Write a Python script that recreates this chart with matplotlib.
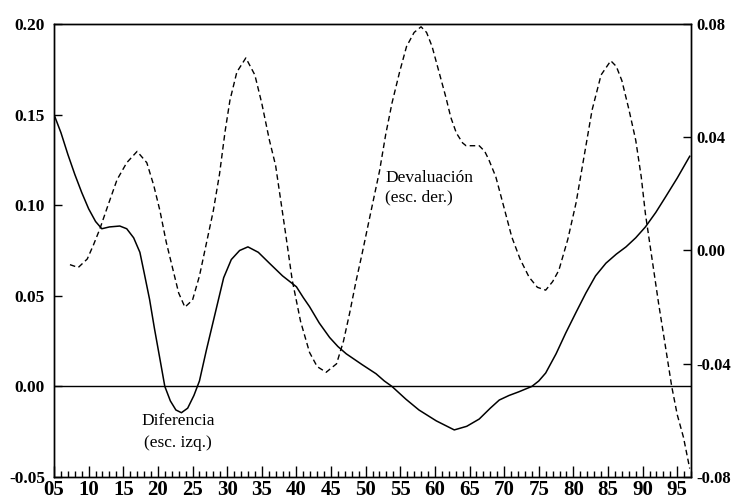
import numpy as np
import matplotlib.pyplot as plt
from matplotlib.ticker import MultipleLocator, FixedLocator

# Diferencia (escala izquierda)
dif_year = [5.1, 6.0, 7.0, 8.0, 9.0, 10.0, 11.0, 11.9, 13.0, 14.5, 15.5, 16.5,
            17.4, 18.0, 18.8, 19.5, 20.3, 21.0, 21.8, 22.6, 23.4, 24.3, 25.2,
            26.0, 27.0, 28.5, 29.5, 30.6, 31.8, 33.0, 34.5, 36.1, 38.0, 40.0,
            41.0, 41.9, 43.3, 44.8, 46.0, 47.2, 49.5, 51.5, 52.7, 53.8, 55.8,
            57.7, 60.2, 62.8, 64.6, 66.4, 68.0, 69.3, 70.7, 72.1, 74.0, 75.0,
            76.0, 77.5, 78.9, 80.4, 81.8, 83.2, 84.7, 86.2, 87.6, 89.0, 90.4,
            91.9, 93.3, 95.0, 96.8]
dif_val = [0.149, 0.140, 0.128, 0.117, 0.107, 0.098, 0.091, 0.087, 0.088, 0.0885,
           0.087, 0.082, 0.074, 0.063, 0.048, 0.032, 0.015, 0.000, -0.008, -0.013,
           -0.0145, -0.012, -0.005, 0.003, 0.020, 0.044, 0.060, 0.070, 0.075,
           0.077, 0.074, 0.068, 0.061, 0.055, 0.049, 0.044, 0.035, 0.027, 0.022,
           0.018, 0.012, 0.007, 0.003, 0.000, -0.007, -0.013, -0.019, -0.024,
           -0.022, -0.018, -0.012, -0.0075, -0.005, -0.003, 0.000, 0.003, 0.0074,
           0.018, 0.0295, 0.041, 0.0515, 0.061, 0.068, 0.073, 0.077, 0.082,
           0.088, 0.096, 0.1045, 0.115, 0.127]

# Devaluación (escala derecha)
dev_year = [7.3, 8.5, 9.8, 10.7, 11.6, 12.8, 14.1, 15.5, 17.0, 18.4, 19.4, 20.3,
            21.2, 22.1, 23.0, 23.9, 25.0, 26.0, 27.0, 28.0, 28.9, 29.7, 30.4,
            31.4, 32.7, 34.0, 35.0, 36.1, 37.0, 37.6, 38.5, 39.4, 40.6, 41.9,
            43.0, 44.3, 45.8, 46.8, 47.7, 48.6, 49.5, 50.7, 52.0, 52.9, 53.8,
            54.9, 55.9, 57.0, 58.0, 58.8, 59.6, 60.6, 61.6, 62.3, 63.1, 64.0,
            64.5, 65.5, 66.4, 67.2, 67.8, 68.8, 70.0, 71.1, 72.3, 73.6, 74.8,
            76.0, 77.0, 77.9, 79.2, 80.4, 81.6, 82.7, 84.0, 85.4, 86.2, 87.0,
            88.0, 89.0, 89.8, 90.4, 91.3, 92.3, 93.3, 94.2, 95.0, 95.9, 96.8]
dev_val = [-0.005, -0.006, -0.003, 0.002, 0.0075, 0.016, 0.025, 0.031, 0.035,
           0.031, 0.023, 0.014, 0.003, -0.006, -0.015, -0.020, -0.0175, -0.009,
           0.0025, 0.014, 0.027, 0.042, 0.053, 0.063, 0.068, 0.062, 0.052, 0.039,
           0.030, 0.020, 0.005, -0.0105, -0.025, -0.036, -0.041, -0.043, -0.040,
           -0.032, -0.022, -0.011, -0.001, 0.013, 0.028, 0.041, 0.052, 0.063,
           0.072, 0.077, 0.079, 0.077, 0.072, 0.063, 0.054, 0.047, 0.0415, 0.038,
           0.037, 0.037, 0.037, 0.035, 0.032, 0.026, 0.015, 0.0048, -0.003,
           -0.0094, -0.013, -0.014, -0.011, -0.007, 0.004, 0.017, 0.034, 0.0496,
           0.062, 0.067, 0.065, 0.060, 0.050, 0.039, 0.026, 0.013, -0.002,
           -0.0186, -0.034, -0.048, -0.058, -0.066, -0.077]

left_ticks = [-0.05, 0.00, 0.05, 0.10, 0.15, 0.20]
right_ticks = [-0.08, -0.04, 0.00, 0.04, 0.08]
x_ticks = list(range(5, 100, 5))

plt.rcParams['font.family'] = 'Liberation Serif'

fig = plt.figure(figsize=(7.36, 4.99), dpi=100)
ax = fig.add_axes([0.0734, 0.044, 0.8656, 0.908])
ax2 = ax.twinx()

ax.plot(dif_year, dif_val, color='black', linewidth=1.1)
ax.axhline(0, color='black', linewidth=1.0)
ax2.plot(dev_year, dev_val, color='black', linewidth=1.0, dashes=(4, 2.5))

ax.set_xlim(5, 97)
ax.set_ylim(-0.05, 0.20)
ax2.set_ylim(-0.08, 0.08)

ax.xaxis.set_major_locator(FixedLocator(x_ticks))
ax.xaxis.set_minor_locator(MultipleLocator(1))
ax.set_xticklabels(['%02d' % t for t in x_ticks])
ax.set_yticks(left_ticks)
ax.set_yticklabels(['%.2f' % t for t in left_ticks])
ax2.set_yticks(right_ticks)
ax2.set_yticklabels(['%.2f' % t for t in right_ticks])

ax.tick_params(axis='x', which='major', direction='in', length=8, width=1, pad=2)
ax.tick_params(axis='x', which='minor', direction='in', length=4.5, width=1)
ax.tick_params(axis='y', direction='in', length=6, width=1, pad=6.5)
ax2.tick_params(axis='y', direction='in', length=6, width=1, pad=4)
for lab in ax.get_xticklabels():
    lab.set_fontsize(15)
    lab.set_fontweight('bold')
for lab in ax.get_yticklabels():
    lab.set_fontsize(12.5)
    lab.set_fontweight('bold')
for lab in ax2.get_yticklabels():
    lab.set_fontsize(12)
    lab.set_fontweight('bold')

for a in (ax, ax2):
    for s in a.spines.values():
        s.set_linewidth(1.0)

ax.text(52.8, 0.115, 'Devaluación', fontsize=12.5, ha='left', va='center')
ax.text(52.8, 0.1045, '(esc. der.)', fontsize=12.5, ha='left', va='center')
ax.text(22.9, -0.019, 'Diferencia', fontsize=12.5, ha='center', va='center')
ax.text(22.9, -0.031, '(esc. izq.)', fontsize=12.5, ha='center', va='center')

plt.savefig('out.png', dpi=100)
